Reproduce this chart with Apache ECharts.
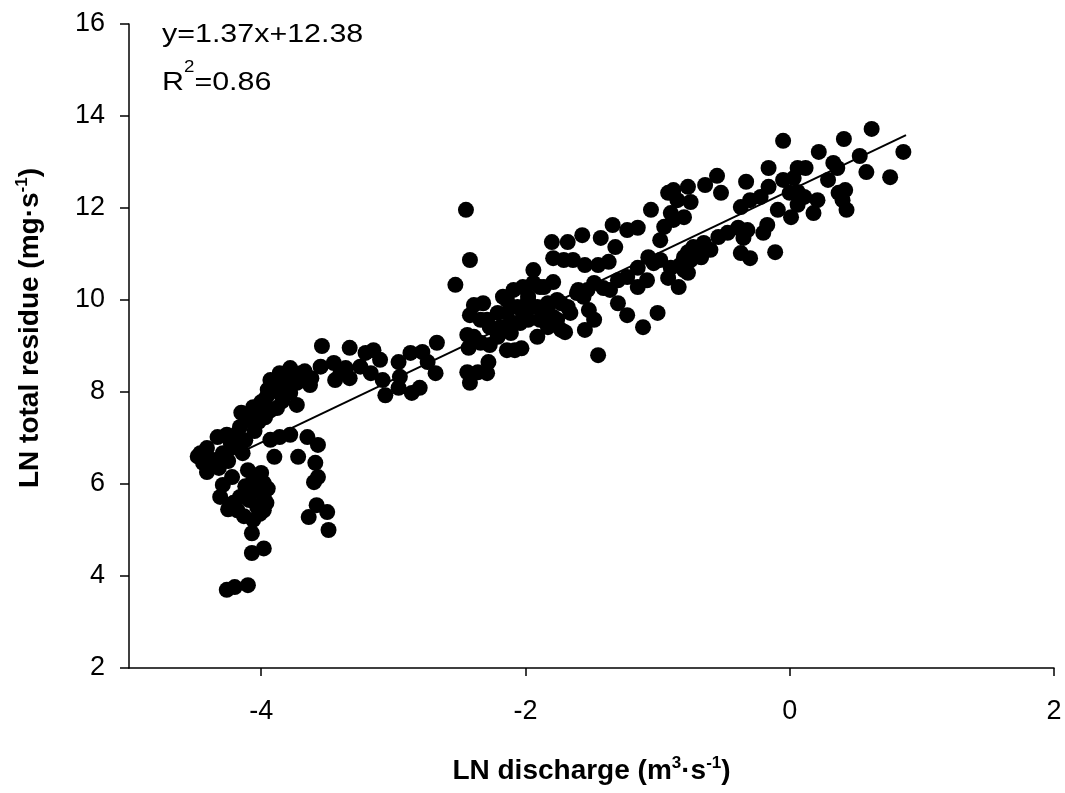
<!DOCTYPE html>
<html>
<head>
<meta charset="utf-8">
<script src="https://cdn.jsdelivr.net/npm/echarts@6/dist/echarts.min.js"></script>
<style>
  html, body { margin: 0; padding: 0; background: #fff; }
  #scatter-chart { width: 1065px; height: 793px; }
</style>
</head>
<body>
<div id="scatter-chart"></div>
<script>
// LN discharge (x) and LN total residue (y)
const lnDischarge = [
  -3.54, -3.33, -3.55, -3.45, -3.36, -3.44, -3.33, -3.78, -3.86, -3.93, -3.70, -3.63, -3.73, -3.78, -3.73, -3.86,
  -3.96, -4.00, -4.06, -4.08, -4.00, -4.10, -4.16, -3.93, -3.88, -3.90, -4.33, -4.26, -4.46, -4.41, -4.44, -4.36,
  -4.29, -4.21, -4.14, -4.23, -4.18, -4.41, -3.93, -3.86, -3.78, -3.90, -4.22, -4.29, -4.31, -4.10, -4.00, -3.98,
  -4.07, -3.98, -3.96, -4.03, -4.18, -4.16, -4.21, -4.06, -3.98, -4.07, -4.07, -3.98, -4.26, -4.20, -4.10, -3.65,
  -3.57, -3.72, -3.59, -3.60, -3.57, -3.58, -3.64, -3.50, -3.49,
  -4.48, -4.39, -4.32, -4.25, -4.12, -4.05, -4.02, -3.97, -3.84, -3.82, -3.75, -3.67, -3.62, -3.95, -4.15, -4.12,
  -4.05, -4.02, -4.09, -3.95, -4.13, -4.25, -4.01,
  -2.45, -2.42, -2.53, -3.15, -3.21, -3.10, -3.25, -3.17, -3.08, -3.06, -2.96, -2.95, -2.96, -2.87, -2.78, -2.86,
  -2.80, -2.67, -2.68, -2.74, -3.40, -2.44, -2.42, -2.36, -2.29, -2.28, -2.43, -2.39, -2.34, -2.27, -2.42, -2.39,
  -2.32, -2.34, -2.27, -2.21, -2.14, -2.09, -2.14, -2.08, -2.17, -2.04, -2.02, -1.98, -2.02, -1.94, -1.91, -2.21,
  -2.44,
  -2.17, -1.94, -1.86, -1.79, -2.14, -2.06, -1.98, -1.91, -1.83, -1.76, -1.68, -1.61, -1.53, -2.29, -2.19, -2.09,
  -1.98, -1.89, -1.79, -1.73, -1.83, -2.11, -1.56, -1.48, -1.08, -1.03,
  -1.45, -1.11, -1.00, -1.23, -1.30, -1.70, -1.55, -1.52, -1.60, -1.48, -1.41, -1.36, -1.30, -1.23, -1.15, -1.15,
  -1.07, -0.98, -0.90, -0.92, -0.84, -0.80, -0.77, -0.73, -1.80, -1.68, -1.57, -1.79, -1.71, -1.64, -1.55, -1.45,
  -1.37, -1.43, -1.32, -1.34, -1.23, -1.15, -1.05, -0.98, -0.95, -0.90, -0.85, -0.77, -0.75, -0.80, -0.88, -1.89,
  -1.96, -1.83, -1.73, -1.66, -1.86, -1.76, -2.03,
  0.62, 0.41, -0.05, 0.86, 0.22, 0.53, 0.33, 0.36, 0.58, 0.76, 0.29, 0.06, 0.12, 0.03, -0.16, -0.33,
  -0.55, -0.64, -0.52, -0.05, -0.16, -0.22, -0.30, -0.37, 0.00, 0.06, 0.11, 0.21, 0.06, -0.09, 0.01, 0.18,
  0.37, 0.42, 0.40, 0.43, -0.17, -0.20, -0.32, -0.39, -0.47, -0.54, -0.35, -0.37, -0.30, -0.11, -0.65, -0.73,
  -0.60, -0.67, -0.77, -0.80, -0.75, -0.83, -0.92, -0.88
];
const lnResidue = [
  9.00, 8.96, 8.55, 8.63, 8.52, 8.26, 8.30, 8.52, 8.41, 8.26, 8.41, 8.15, 8.20, 7.98, 7.72, 7.98,
  7.89, 7.78, 7.67, 7.54, 7.54, 7.39, 7.24, 7.60, 7.65, 8.11, 7.02, 7.07, 6.67, 6.78, 6.46, 6.52,
  6.67, 6.80, 6.67, 6.89, 7.10, 6.26, 6.96, 7.02, 7.07, 6.59, 6.15, 5.98, 5.72, 6.30, 6.24, 6.02,
  6.02, 5.72, 5.59, 5.50, 5.43, 5.72, 5.59, 5.22, 5.43, 4.93, 4.50, 4.60, 3.70, 3.76, 3.80, 7.02,
  6.85, 6.59, 6.46, 6.04, 6.15, 5.54, 5.28, 5.39, 5.00,
  6.60, 6.40, 6.35, 6.50, 6.95, 7.15, 7.35, 7.45, 7.80, 8.25, 8.35, 8.45, 8.30, 8.05, 7.55, 5.95,
  5.85, 6.10, 5.65, 5.90, 5.30, 5.45, 5.35,
  11.96, 10.87, 10.33, 8.91, 8.85, 8.70, 8.55, 8.41, 8.26, 7.93, 8.65, 8.33, 8.09, 8.85, 8.87, 7.98,
  8.09, 9.07, 8.41, 8.65, 8.41, 8.43, 8.20, 8.43, 8.41, 8.65, 8.96, 9.20, 9.07, 9.02, 9.67, 9.89,
  9.93, 9.57, 9.41, 9.72, 10.00, 10.22, 8.91, 8.91, 9.41, 9.50, 9.72, 10.07, 10.28, 10.65, 9.20, 9.20,
  9.24,
  10.07, 10.37, 10.28, 10.39, 9.72, 9.85, 10.00, 9.85, 9.93, 10.00, 9.85, 10.15, 10.22, 9.57, 9.41, 9.50,
  9.57, 9.57, 9.63, 9.35, 9.41, 9.28, 10.07, 9.57, 10.43, 10.80,
  8.80, 9.41, 9.72, 9.67, 9.93, 9.30, 9.35, 9.78, 10.22, 10.37, 10.26, 10.22, 10.43, 10.50, 10.70, 10.28,
  10.93, 10.87, 10.70, 10.48, 10.28, 10.93, 10.59, 11.04, 11.26, 11.26, 11.41, 10.91, 10.87, 10.87, 10.76, 10.76,
  10.83, 11.35, 11.15, 11.63, 11.52, 11.57, 11.96, 11.30, 11.59, 11.89, 12.17, 12.46, 12.13, 11.80, 12.39, 10.28,
  9.85, 9.85, 9.93, 9.72, 9.57, 9.57, 8.95,
  13.72, 13.50, 13.46, 13.22, 13.22, 13.13, 12.98, 12.87, 12.78, 12.67, 12.61, 12.87, 12.87, 12.65, 12.87, 12.57,
  12.70, 12.50, 12.33, 12.61, 12.46, 12.24, 12.17, 12.02, 12.33, 12.35, 12.24, 12.17, 12.07, 11.96, 11.80, 11.89,
  12.33, 12.39, 12.17, 11.96, 11.63, 11.46, 11.52, 11.57, 11.46, 11.37, 11.35, 11.02, 10.91, 11.04, 11.24, 11.15,
  11.09, 10.93, 11.04, 10.65, 10.87, 10.76, 12.33, 11.74
];

// regression from the figure: y = 1.37x + 12.38
const slope = 1.37;
const intercept = 12.38;
const fitRange = [-4.1, 0.88];

const xTicks = [-4, -2, 0, 2];
const yTicks = [2, 4, 6, 8, 10, 12, 14, 16];

const points = lnDischarge.map((x, i) => [x, lnResidue[i]]);
const fitLine = fitRange.map(x => [x, slope * x + intercept]);

const font = '"Liberation Sans", Arial, sans-serif';
const chart = echarts.init(document.getElementById('scatter-chart'));

const titleRich = {
    b: { fontSize: 28, fontWeight: 'bold', fontFamily: font, color: '#000' },
    sup: { fontSize: 17, fontWeight: 'bold', fontFamily: font, color: '#000', padding: [0, 0, 16, 0] }
};

chart.setOption({
    animation: false,
    grid: { left: 129, right: 11, top: 24, bottom: 125, containLabel: false },
    xAxis: {
        type: 'value',
        min: -5,
        max: 2,
        splitLine: { show: false },
        axisLine: { onZero: false, lineStyle: { color: '#000', width: 1.5 } },
        axisTick: { length: 8, customValues: xTicks, lineStyle: { color: '#000', width: 1.5 } },
        axisLabel: {
            margin: 30,
            color: '#000',
            fontSize: 27,
            fontFamily: font,
            customValues: xTicks
        },
        name: '{b|LN discharge (m}{sup|3}{b|·s}{sup|-1}{b|)}',
        nameLocation: 'middle',
        nameGap: 87,
        nameTextStyle: { rich: titleRich }
    },
    yAxis: {
        type: 'value',
        min: 2,
        max: 16,
        interval: 2,
        splitLine: { show: false },
        axisLine: { onZero: false, lineStyle: { color: '#000', width: 1.5 } },
        axisTick: { length: 9, customValues: yTicks, lineStyle: { color: '#000', width: 1.5 } },
        axisLabel: {
            margin: 24,
            color: '#000',
            fontSize: 27,
            fontFamily: font,
            customValues: yTicks
        },
        name: '{b|LN total residue (mg·s}{sup|-1}{b|)}',
        nameLocation: 'middle',
        nameRotate: 90,
        nameGap: 82,
        nameTextStyle: { rich: titleRich, padding: [0, 0, 0, 36] }
    },
    graphic: [
        {
            type: 'text',
            left: 162,
            top: 22,
            scaleX: 1.17,
            style: { text: 'y=1.37x+12.38', fontSize: 26, fontFamily: font, fill: '#000' }
        },
        {
            type: 'text',
            left: 162,
            top: 60,
            scaleX: 1.17,
            style: {
                text: '{n|R}{sup|2}{n|=0.86}',
                rich: {
                    n: { fontSize: 26, fontFamily: font, color: '#000' },
                    sup: { fontSize: 16, fontFamily: font, color: '#000', padding: [0, 0, 29, 0] }
                }
            }
        }
    ],
    series: [
        {
            type: 'scatter',
            data: points,
            symbolSize: 16,
            itemStyle: { color: '#000', opacity: 1 },
            z: 2
        },
        {
            type: 'line',
            data: fitLine,
            symbol: 'none',
            lineStyle: { color: '#000', width: 2 },
            z: 3
        }
    ]
});
</script>
</body>
</html>
